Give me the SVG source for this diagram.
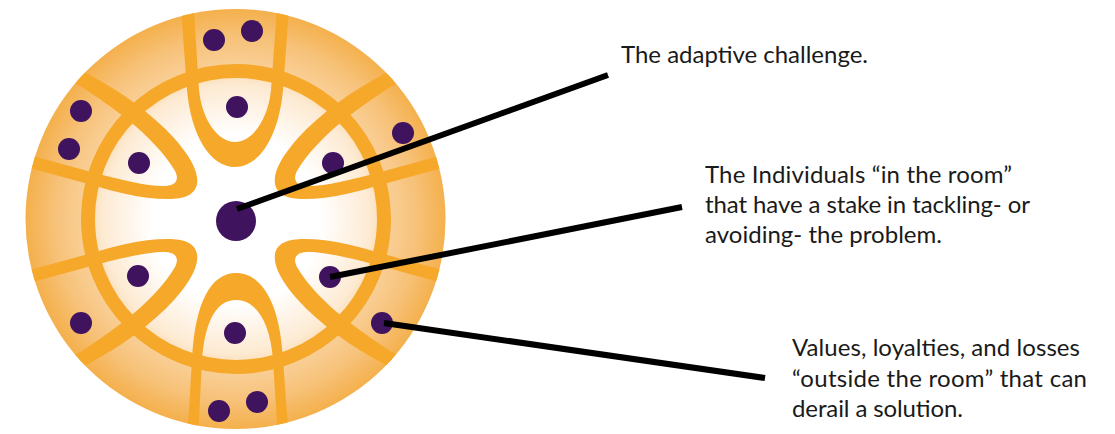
<svg xmlns="http://www.w3.org/2000/svg" width="1115" height="434" viewBox="0 0 1115 434">
  <defs>
    <radialGradient id="disk" gradientUnits="userSpaceOnUse" cx="236" cy="219" r="210">
      <stop offset="0" stop-color="#FFFFFF"/>
      <stop offset="0.40" stop-color="#FFFFFF"/>
      <stop offset="0.64" stop-color="#FDEAD2"/>
      <stop offset="0.70" stop-color="#FBDCB2"/>
      <stop offset="0.73" stop-color="#F9CF96"/>
      <stop offset="0.86" stop-color="#F7C27A"/>
      <stop offset="1" stop-color="#F4B04C"/>
    </radialGradient>
    <clipPath id="wheelClip">
      <circle cx="235.5" cy="219" r="210"/>
    </clipPath>
    <path id="petalSide" d="M 50 55 L 88 74 C 122 92 152 114 174 138 C 190 156 199 172 197 184 C 195 195 184 199 168 199 C 140 199 112 191 92 185 L 15 164 L 18 152 L 95 173 C 122 180 150 187 166 186 C 177 185 179 179 175 171 C 165 154 148 136 128 120 C 112 107 98 98 82 87 L 44 67 Z"/>
  </defs>
  <style>
    .band { fill: #F6A82A; }
    .ring { fill: none; stroke: #F6A82A; stroke-width: 14; }
    .dot { fill: #40135F; }
    .conn { stroke: #000000; stroke-width: 6; stroke-linecap: butt; fill: none; }
    .lbl { font-family: Lato, "Open Sans", sans-serif; font-size: 24px; fill: #1a1a1a; }
  </style>

  <rect width="1115" height="434" fill="#FFFFFF"/>

  <g id="wheel">
    <circle cx="235.5" cy="219" r="210" fill="url(#disk)"/>
    <g clip-path="url(#wheelClip)">
      <circle class="ring" cx="236" cy="219" r="148"/>
      <path id="petal-top" class="band" d="M 180 -5 L 187 90 C 191 135 210 167 235 167 C 260 167 279 135 283 90 L 290 -5 L 278 -5 L 271 90 C 268 120 252 142 235 142 C 218 142 202 120 199 90 L 193 -5 Z"/>
      <path id="petal-bottom" class="band" d="M 187 440 L 192 360 C 195 300 212 273 236 273 C 260 273 280 300 283 360 L 289 440 L 278 440 L 273 360 C 270 320 255 300 236 300 C 217 300 205 320 202 360 L 198 440 Z"/>
      <use id="petal-upper-left" href="#petalSide" class="band"/>
      <use id="petal-upper-right" href="#petalSide" class="band" transform="translate(472,0) scale(-1,1)"/>
      <use id="petal-lower-left" href="#petalSide" class="band" transform="translate(0,438) scale(1,-1)"/>
      <use id="petal-lower-right" href="#petalSide" class="band" transform="translate(472,438) scale(-1,-1)"/>
    </g>
    <g id="outside-dots">
      <circle class="dot" cx="214" cy="40" r="11"/>
      <circle class="dot" cx="252" cy="31" r="11"/>
      <circle class="dot" cx="81" cy="111" r="11"/>
      <circle class="dot" cx="69" cy="149" r="11"/>
      <circle class="dot" cx="81" cy="323" r="11"/>
      <circle class="dot" cx="219" cy="411" r="11"/>
      <circle class="dot" cx="257" cy="402" r="11"/>
      <circle class="dot" cx="403" cy="133" r="11"/>
      <circle id="outside-dot" class="dot" cx="382" cy="323" r="11"/>
    </g>
    <g id="room-dots">
      <circle class="dot" cx="237" cy="107" r="11"/>
      <circle class="dot" cx="139" cy="163" r="11"/>
      <circle class="dot" cx="333" cy="163" r="11"/>
      <circle class="dot" cx="138" cy="276" r="11"/>
      <circle id="individual-dot" class="dot" cx="330" cy="277" r="11"/>
      <circle class="dot" cx="235" cy="333" r="11"/>
    </g>
    <circle id="challenge-dot" class="dot" cx="236" cy="221" r="20"/>
  </g>

  <g id="connectors">
    <line class="conn" x1="237" y1="209" x2="608" y2="75"/>
    <line class="conn" x1="330" y1="277" x2="682" y2="207"/>
    <line class="conn" x1="384" y1="323" x2="765" y2="378"/>
  </g>

  <g id="label-challenge">
    <text class="lbl" x="621" y="63" textLength="247" lengthAdjust="spacing">The adaptive challenge.</text>
  </g>
  <g id="label-individuals">
    <text class="lbl" x="705" y="183" textLength="307" lengthAdjust="spacing">The Individuals “in the room”</text>
    <text class="lbl" x="705" y="213" textLength="325" lengthAdjust="spacing">that have a stake in tackling- or</text>
    <text class="lbl" x="705" y="243" textLength="237" lengthAdjust="spacing">avoiding- the problem.</text>
  </g>
  <g id="label-values">
    <text class="lbl" x="792" y="356" textLength="288" lengthAdjust="spacing">Values, loyalties, and losses</text>
    <text class="lbl" x="792" y="387" textLength="295" lengthAdjust="spacing">“outside the room” that can</text>
    <text class="lbl" x="792" y="417" textLength="171" lengthAdjust="spacing">derail a solution.</text>
  </g>
</svg>
